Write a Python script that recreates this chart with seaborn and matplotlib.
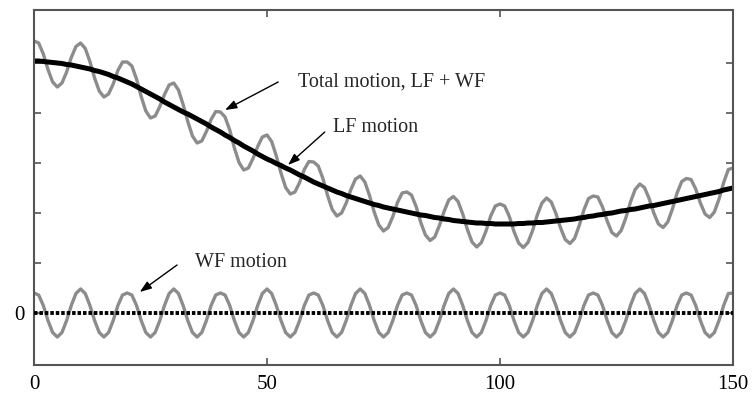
import numpy as np
import matplotlib
matplotlib.use("Agg")
import matplotlib.pyplot as plt
import seaborn as sns

# time axis (one sample per unit)
x = np.arange(0, 151)

# LF motion
lf = [5.04, 5.04, 5.03, 5.02, 5.01, 5.00, 4.99, 4.97, 4.96, 4.94,
      4.92, 4.90, 4.88, 4.85, 4.83, 4.80, 4.77, 4.73, 4.70, 4.66,
      4.62, 4.58, 4.53, 4.48, 4.43, 4.38, 4.33, 4.28, 4.22, 4.17,
      4.12, 4.07, 4.02, 3.98, 3.93, 3.88, 3.83, 3.78, 3.72, 3.67,
      3.62, 3.56, 3.51, 3.45, 3.40, 3.34, 3.29, 3.24, 3.18, 3.13,
      3.08, 3.04, 2.99, 2.95, 2.90, 2.86, 2.81, 2.76, 2.72, 2.67,
      2.62, 2.58, 2.54, 2.50, 2.46, 2.42, 2.39, 2.35, 2.32, 2.29,
      2.26, 2.23, 2.20, 2.17, 2.15, 2.12, 2.10, 2.08, 2.06, 2.04,
      2.02, 2.00, 1.98, 1.96, 1.95, 1.93, 1.91, 1.90, 1.88, 1.87,
      1.85, 1.84, 1.83, 1.82, 1.81, 1.80, 1.80, 1.79, 1.79, 1.78,
      1.78, 1.78, 1.78, 1.78, 1.79, 1.79, 1.80, 1.80, 1.81, 1.81,
      1.82, 1.83, 1.84, 1.85, 1.86, 1.87, 1.88, 1.90, 1.91, 1.93,
      1.94, 1.96, 1.97, 1.99, 2.00, 2.02, 2.04, 2.05, 2.07, 2.08,
      2.10, 2.12, 2.14, 2.15, 2.17, 2.19, 2.21, 2.23, 2.25, 2.27,
      2.29, 2.31, 2.33, 2.35, 2.37, 2.39, 2.41, 2.43, 2.46, 2.48,
      2.50]

# WF motion
wf = [0.40, 0.36, 0.15, -0.15, -0.39, -0.48, -0.39, -0.15, 0.15, 0.39,
      0.48, 0.39, 0.15, -0.15, -0.39, -0.48, -0.39, -0.15, 0.15, 0.36,
      0.40, 0.36, 0.15, -0.15, -0.39, -0.48, -0.39, -0.15, 0.15, 0.39,
      0.48, 0.39, 0.15, -0.15, -0.39, -0.48, -0.39, -0.15, 0.15, 0.36,
      0.40, 0.36, 0.15, -0.15, -0.39, -0.48, -0.39, -0.15, 0.15, 0.39,
      0.48, 0.39, 0.15, -0.15, -0.39, -0.48, -0.39, -0.15, 0.15, 0.36,
      0.40, 0.36, 0.15, -0.15, -0.39, -0.48, -0.39, -0.15, 0.15, 0.39,
      0.48, 0.39, 0.15, -0.15, -0.39, -0.48, -0.39, -0.15, 0.15, 0.36,
      0.40, 0.36, 0.15, -0.15, -0.39, -0.48, -0.39, -0.15, 0.15, 0.39,
      0.48, 0.39, 0.15, -0.15, -0.39, -0.48, -0.39, -0.15, 0.15, 0.36,
      0.40, 0.36, 0.15, -0.15, -0.39, -0.48, -0.39, -0.15, 0.15, 0.39,
      0.48, 0.39, 0.15, -0.15, -0.39, -0.48, -0.39, -0.15, 0.15, 0.36,
      0.40, 0.36, 0.15, -0.15, -0.39, -0.48, -0.39, -0.15, 0.15, 0.39,
      0.48, 0.39, 0.15, -0.15, -0.39, -0.48, -0.39, -0.15, 0.15, 0.36,
      0.40, 0.36, 0.15, -0.15, -0.39, -0.48, -0.39, -0.15, 0.15, 0.39,
      0.40]

# total motion = LF + WF
total = np.array(lf) + np.array(wf)

x_ticks = [0, 50, 100, 150]
x_labels = ['0', '50', '100', '150']
y_ticks = [0, 1, 2, 3, 4, 5]
y_labels = ['0', '', '', '', '', '']

sns.set_theme(style="white")
plt.rcParams['font.family'] = ['Liberation Serif', 'DejaVu Serif']

fig = plt.figure(figsize=(7.56, 3.95), dpi=100)
ax = fig.add_axes([34/756, 30/395, 699/756, 355/395])

gray = '#8c8c8c'
sns.lineplot(x=x, y=wf, color=gray, linewidth=2.4, ax=ax)
sns.lineplot(x=x, y=total, color=gray, linewidth=2.4, ax=ax)
sns.lineplot(x=x, y=lf, color='black', linewidth=3.6, ax=ax)
ax.plot([0, 150], [0, 0], color='black', linewidth=2.8, dashes=(0.9, 0.5), zorder=5)

ax.set_xlim(0, 150)
ax.set_ylim(-1.04, 6.06)
ax.set_xticks(x_ticks)
ax.set_xticklabels(x_labels)
ax.set_yticks(y_ticks)
ax.set_yticklabels(y_labels)
ax.set_xlabel('')
ax.set_ylabel('')
ax.tick_params(direction='in', left=True, bottom=True, top=True, right=True,
               labeltop=False, labelright=False, length=5, width=1.2,
               color='#555555', labelsize=15, labelcolor='black')
ax.tick_params(axis='x', pad=7)
ax.tick_params(axis='y', pad=7)
for s in ax.spines.values():
    s.set_color('#555555')
    s.set_linewidth(1.5)

arrow = dict(arrowstyle='-|>,head_length=0.5,head_width=0.18', color='black',
             lw=1, mutation_scale=14, shrinkA=0, shrinkB=0)
ax.annotate('', xy=(41.0, 4.06), xytext=(52.4, 4.62), arrowprops=arrow)
ax.annotate('', xy=(54.5, 2.96), xytext=(62.4, 3.62), arrowprops=arrow)
ax.annotate('', xy=(22.7, 0.42), xytext=(30.7, 0.96), arrowprops=arrow)

ax.text(56.7, 4.52, 'Total motion, LF + WF', fontsize=14.5, va='baseline', ha='left')
ax.text(64.2, 3.62, 'LF motion', fontsize=14.5, va='baseline', ha='left')
ax.text(34.5, 0.92, 'WF motion', fontsize=14.5, va='baseline', ha='left')

plt.savefig('out.png', dpi=100)
